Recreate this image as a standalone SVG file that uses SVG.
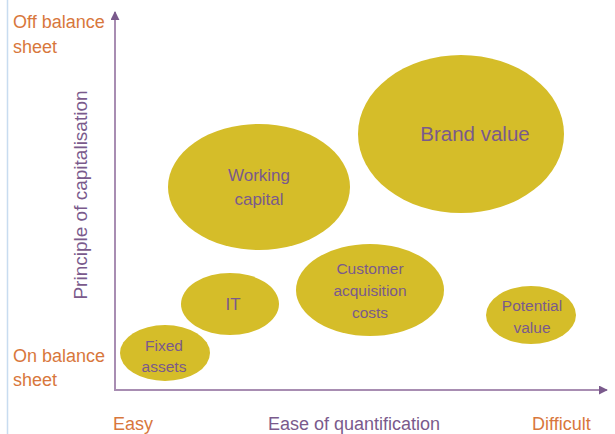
<svg xmlns="http://www.w3.org/2000/svg" width="615" height="434" viewBox="0 0 615 434">
  <style>
    .bubble { fill: #D5BD29; }
    .lbl { font-family: "Liberation Sans", Arial, sans-serif; fill: #7A5A8C; text-anchor: middle; }
    .end { font-family: "Liberation Sans", Arial, sans-serif; fill: #D8773C; font-size: 18px; }
    .axis { stroke: #A88DB2; stroke-width: 2; fill: none; }
  </style>
  <defs>
    <marker id="arrow" viewBox="0 0 10 10" refX="9" refY="5" markerWidth="9" markerHeight="9" markerUnits="userSpaceOnUse" orient="auto">
      <path d="M0,0 L10,5 L0,10 z" fill="#7A5A8C"/>
    </marker>
  </defs>
  <rect width="615" height="434" fill="#ffffff"/>
  <line x1="7.5" y1="0" x2="7.5" y2="434" stroke="#C8DCF0" stroke-width="1.5"/>

  <g id="connectors">
    <line class="axis" x1="115" y1="390" x2="115" y2="12" marker-end="url(#arrow)"/>
    <line class="axis" x1="114" y1="390" x2="607" y2="390" marker-end="url(#arrow)"/>
  </g>

  <g id="axis-labels">
    <text class="end" x="13" y="28">Off balance</text>
    <text class="end" x="13" y="53">sheet</text>
    <text class="end" x="13" y="362">On balance</text>
    <text class="end" x="13" y="386">sheet</text>
    <text class="end" x="113" y="430">Easy</text>
    <text class="end" x="532" y="430">Difficult</text>
    <text class="lbl" x="354" y="430" font-size="18">Ease of quantification</text>
    <text class="lbl" x="0" y="0" font-size="19" transform="translate(87,195) rotate(-90)">Principle of capitalisation</text>
  </g>

  <g id="brand-value">
    <ellipse class="bubble" cx="461" cy="134" rx="103" ry="79"/>
    <text class="lbl" x="475" y="141" font-size="20.5">Brand value</text>
  </g>
  <g id="working-capital">
    <ellipse class="bubble" cx="259" cy="187" rx="91" ry="63"/>
    <text class="lbl" x="259" y="181" font-size="17">Working</text>
    <text class="lbl" x="259" y="205" font-size="17">capital</text>
  </g>
  <g id="it">
    <ellipse class="bubble" cx="230" cy="304" rx="49" ry="31"/>
    <text class="lbl" x="233" y="310" font-size="17">IT</text>
  </g>
  <g id="customer-acquisition-costs">
    <ellipse class="bubble" cx="370" cy="290" rx="74" ry="46"/>
    <text class="lbl" x="370" y="274" font-size="15.5">Customer</text>
    <text class="lbl" x="370" y="296" font-size="15.5">acquisition</text>
    <text class="lbl" x="370" y="318" font-size="15.5">costs</text>
  </g>
  <g id="potential-value">
    <ellipse class="bubble" cx="531" cy="315" rx="45" ry="29"/>
    <text class="lbl" x="532" y="311" font-size="15.5">Potential</text>
    <text class="lbl" x="532" y="333" font-size="15.5">value</text>
  </g>
  <g id="fixed-assets">
    <ellipse class="bubble" cx="165" cy="353" rx="45" ry="28"/>
    <text class="lbl" x="164" y="351" font-size="15.5">Fixed</text>
    <text class="lbl" x="164" y="372" font-size="15.5">assets</text>
  </g>
</svg>
